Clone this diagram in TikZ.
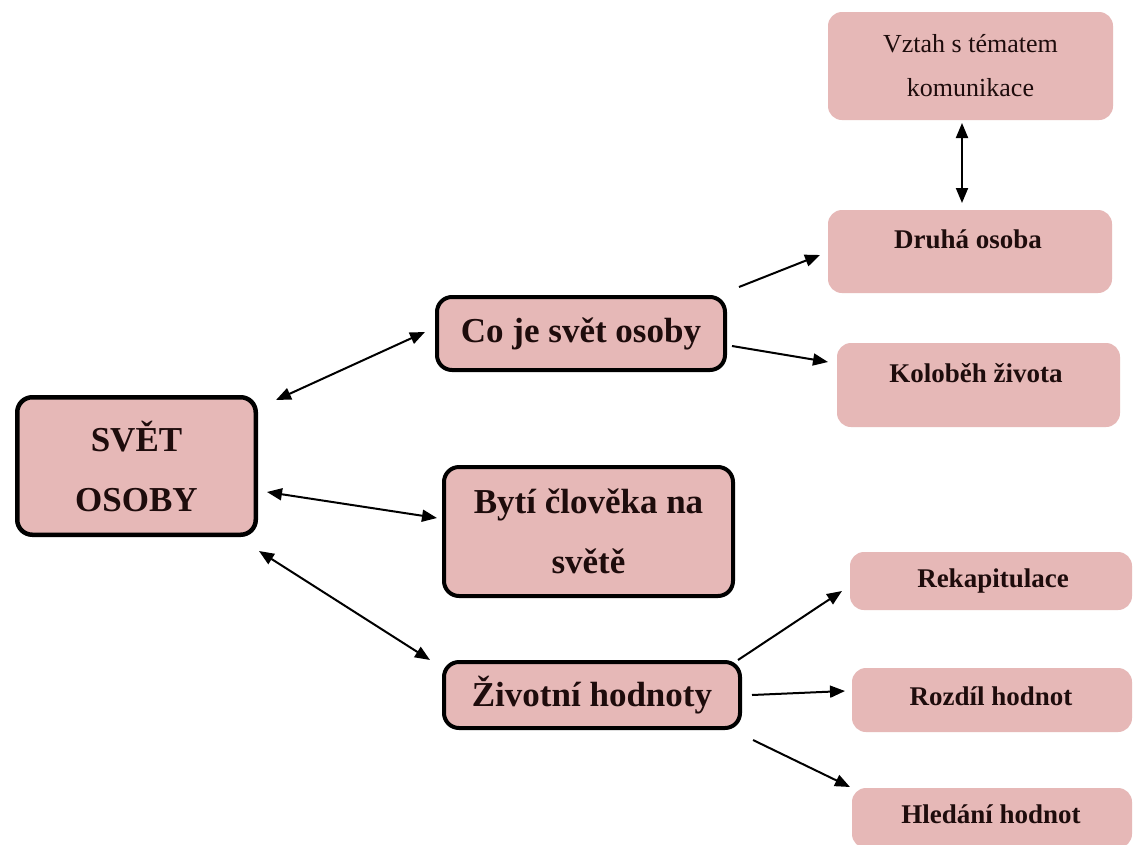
\documentclass[tikz,border=0pt]{standalone}
\usepackage{fontspec}
\setmainfont{Liberation Serif}
\usetikzlibrary{arrows.meta}
\definecolor{boxpink}{RGB}{230,184,183}
\definecolor{inkdark}{RGB}{30,12,12}
\begin{document}
\begin{tikzpicture}[x=1pt,y=1pt,
  mainbox/.style={draw=black, line width=4.5pt, fill=boxpink, rounded corners=15pt,
    align=center, text=inkdark, inner sep=0pt,
    font=\bfseries\fontsize{35}{60}\selectfont},
  subbox/.style={fill=boxpink, rounded corners=14pt, inner sep=0pt, outer sep=0pt,
    align=center, text=inkdark},
  subtext/.style={anchor=base, text=inkdark, inner sep=0pt,
    font=\bfseries\fontsize{27}{32}\selectfont},
  link/.style={line width=2pt, -{Triangle[length=15pt,width=12pt]}},
  dlink/.style={line width=2pt, {Triangle[length=15pt,width=12pt]}-{Triangle[length=15pt,width=12pt]}}]

\useasboundingbox[fill=white] (0,0) rectangle (1133,-844);

% central node
\node[mainbox, minimum width=238.5pt, minimum height=137.5pt] (svet) at (136.5,-466) {SVĚT\\OSOBY};

% middle column
\node[mainbox, line width=4pt, minimum width=288pt, minimum height=73pt] (coje) at (581,-333.5) {Co je svět osoby};
\node[mainbox, line width=4pt, minimum width=289pt, minimum height=129pt] (byti) at (588.5,-531.5) {Bytí člověka na\\světě};
\node[mainbox, line width=4pt, minimum width=296pt, minimum height=66pt] (zivot) at (592,-695) {Životní hodnoty};

% right column
\node[subbox, minimum width=285pt, minimum height=108pt, font=\fontsize{26}{44}\selectfont] (vztah) at (970.5,-66) {Vztah s tématem\\komunikace};
\node[subbox, minimum width=284pt, minimum height=83pt] (druha) at (970,-251.5) {};
\node[subtext] (druhaT) at (968,-248) {Druhá osoba};
\node[subbox, minimum width=283pt, minimum height=84pt] (kolob) at (978.5,-385) {};
\node[subtext] (kolobT) at (976,-382) {Koloběh života};
\node[subbox, minimum width=282pt, minimum height=58pt] (rekap) at (991,-581) {};
\node[subtext] (rekapT) at (993,-587) {Rekapitulace};
\node[subbox, minimum width=280pt, minimum height=64pt] (rozdil) at (992,-700) {};
\node[subtext] (rozdilT) at (991,-705) {Rozdíl hodnot};
\node[subbox, minimum width=280pt, minimum height=60pt] (hledani) at (992,-818) {};
\node[subtext] (hledaniT) at (991,-823) {Hledání hodnot};

% connectors
\draw[dlink] ([shift={(18,-5)}]svet.north east) -- ([shift={(-10,1.5)}]coje.west);
\draw[dlink] ([shift={(9,-26)}]svet.east) -- ([shift={(-5,13.5)}]byti.west);
\draw[dlink] ([shift={(1,-14)}]svet.south east) -- ([shift={(-12,0)}]zivot.north west);
\draw[link] ([shift={(12,8)}]coje.north east) -- ([shift={(-8,-3.5)}]druha.west);
\draw[link] ([shift={(5,-12.5)}]coje.east) -- ([shift={(-9,23)}]kolob.west);
\draw[dlink] ([shift={(-8.5,-3)}]vztah.south) -- ([shift={(-8,7)}]druha.north);
\draw[link] ([shift={(-4,0)}]zivot.north east) -- ([shift={(-8,-10)}]rekap.west);
\draw[link] ([shift={(10,0)}]zivot.east) -- ([shift={(-7,9)}]rozdil.west);
\draw[link] ([shift={(11,-10)}]zivot.south east) -- ([shift={(-2,1)}]hledani.north west);
\end{tikzpicture}
\end{document}
